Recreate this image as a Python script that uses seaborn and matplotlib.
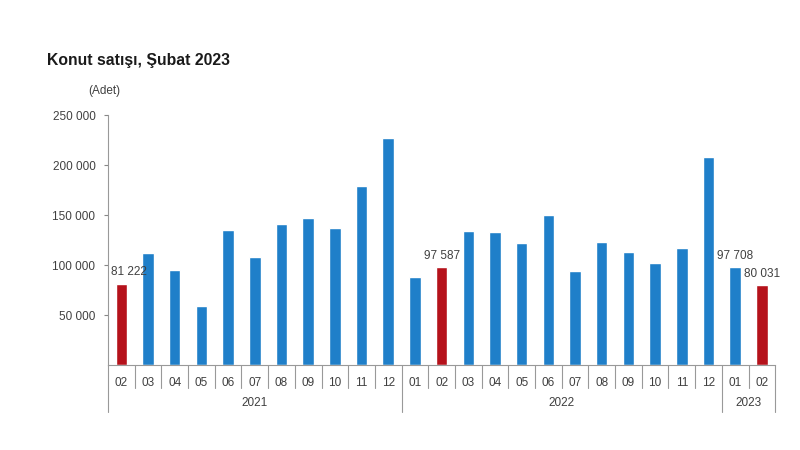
import matplotlib
matplotlib.use("Agg")
import matplotlib.pyplot as plt
import matplotlib.transforms as mtransforms
import seaborn as sns
import pandas as pd
from matplotlib.ticker import FuncFormatter

months = ["02", "03", "04", "05", "06", "07", "08", "09", "10", "11", "12",
          "01", "02", "03", "04", "05", "06", "07", "08", "09", "10", "11", "12",
          "01", "02"]
years = ["2021"] * 11 + ["2022"] * 12 + ["2023"] * 2
sales = [81222, 112000, 95000, 59000, 135000, 108000, 141000, 147000, 137000, 179000, 227000,
         88000, 97587, 134000, 133000, 122000, 150000, 94000, 123000, 113000, 102000, 117000, 208000,
         97708, 80031]
highlight = [m == "02" for m in months]
labelled = [0, 12, 23, 24]

df = pd.DataFrame({
    "key": [f"{y}-{m}" for y, m in zip(years, months)],
    "sales": sales,
    "grp": ["feb" if h else "other" for h in highlight],
})

sns.set_theme(style="white")
plt.rcParams["font.family"] = ["Liberation Sans", "DejaVu Sans"]

fig = plt.figure(figsize=(8, 4.5), dpi=100)
ax = fig.add_axes([0.135, 0.189, 0.834, 0.555])

sns.barplot(data=df, x="key", y="sales", hue="grp", dodge=False, width=0.43,
            palette={"feb": "#b5121b", "other": "#1f7fc9"}, legend=False, ax=ax,
            saturation=1)

ax.set_xlim(-0.5, len(sales) - 0.5)
ax.set_ylim(0, 250000)
ax.set_yticks([50000, 100000, 150000, 200000, 250000])
ax.yaxis.set_major_formatter(FuncFormatter(lambda v, p: f"{int(v):,}".replace(",", " ")))
ax.tick_params(axis="y", length=3, width=0.8, color="#888888", labelsize=8.5,
               labelcolor="#404040", pad=6, left=True)
ax.set_xticks(range(len(months)))
ax.set_xticklabels(months)
ax.tick_params(axis="x", length=0, labelsize=8.5, labelcolor="#404040", pad=9)
ax.set_xlabel("")
ax.set_ylabel("")
for s in ["top", "right"]:
    ax.spines[s].set_visible(False)
for s in ["left", "bottom"]:
    ax.spines[s].set_color("#999999")
    ax.spines[s].set_linewidth(0.8)

# group separators
trans = mtransforms.blended_transform_factory(ax.transData, ax.transAxes)
fig_h = 450.0
ax_h_px = 0.555 * fig_h
short = -23 / ax_h_px
long = -47 / ax_h_px
bounds = [-0.5]
for i in range(1, len(months)):
    bounds.append(i - 0.5)
bounds.append(len(months) - 0.5)
for i, b in enumerate(bounds):
    is_year = (i == 0 or i == len(months) or years[i] != years[i - 1])
    ax.plot([b, b], [0, long if is_year else short], transform=trans,
            color="#999999", lw=0.8, clip_on=False)

# year labels
for y in ["2021", "2022", "2023"]:
    idx = [i for i, yy in enumerate(years) if yy == y]
    ax.text((idx[0] + idx[-1]) / 2, -38 / ax_h_px, y, transform=trans,
            ha="center", va="center", fontsize=8.5, color="#404040")

# value labels
for i in labelled:
    ax.text(i + (0.3 if i == 0 else 0), sales[i] + 5500, f"{sales[i]:,}".replace(",", " "),
            ha="center", va="bottom", fontsize=8.5, color="#404040")

fig.text(47 / 800, 1 - 60 / 450, "Konut satışı, Şubat 2023", fontsize=11.3,
         fontweight="bold", color="#1a1a1a", va="center", ha="left")
fig.text(88 / 800, 1 - 91 / 450, "(Adet)", fontsize=8.5, color="#404040",
         va="center", ha="left")

fig.savefig("out.png", dpi=100)
